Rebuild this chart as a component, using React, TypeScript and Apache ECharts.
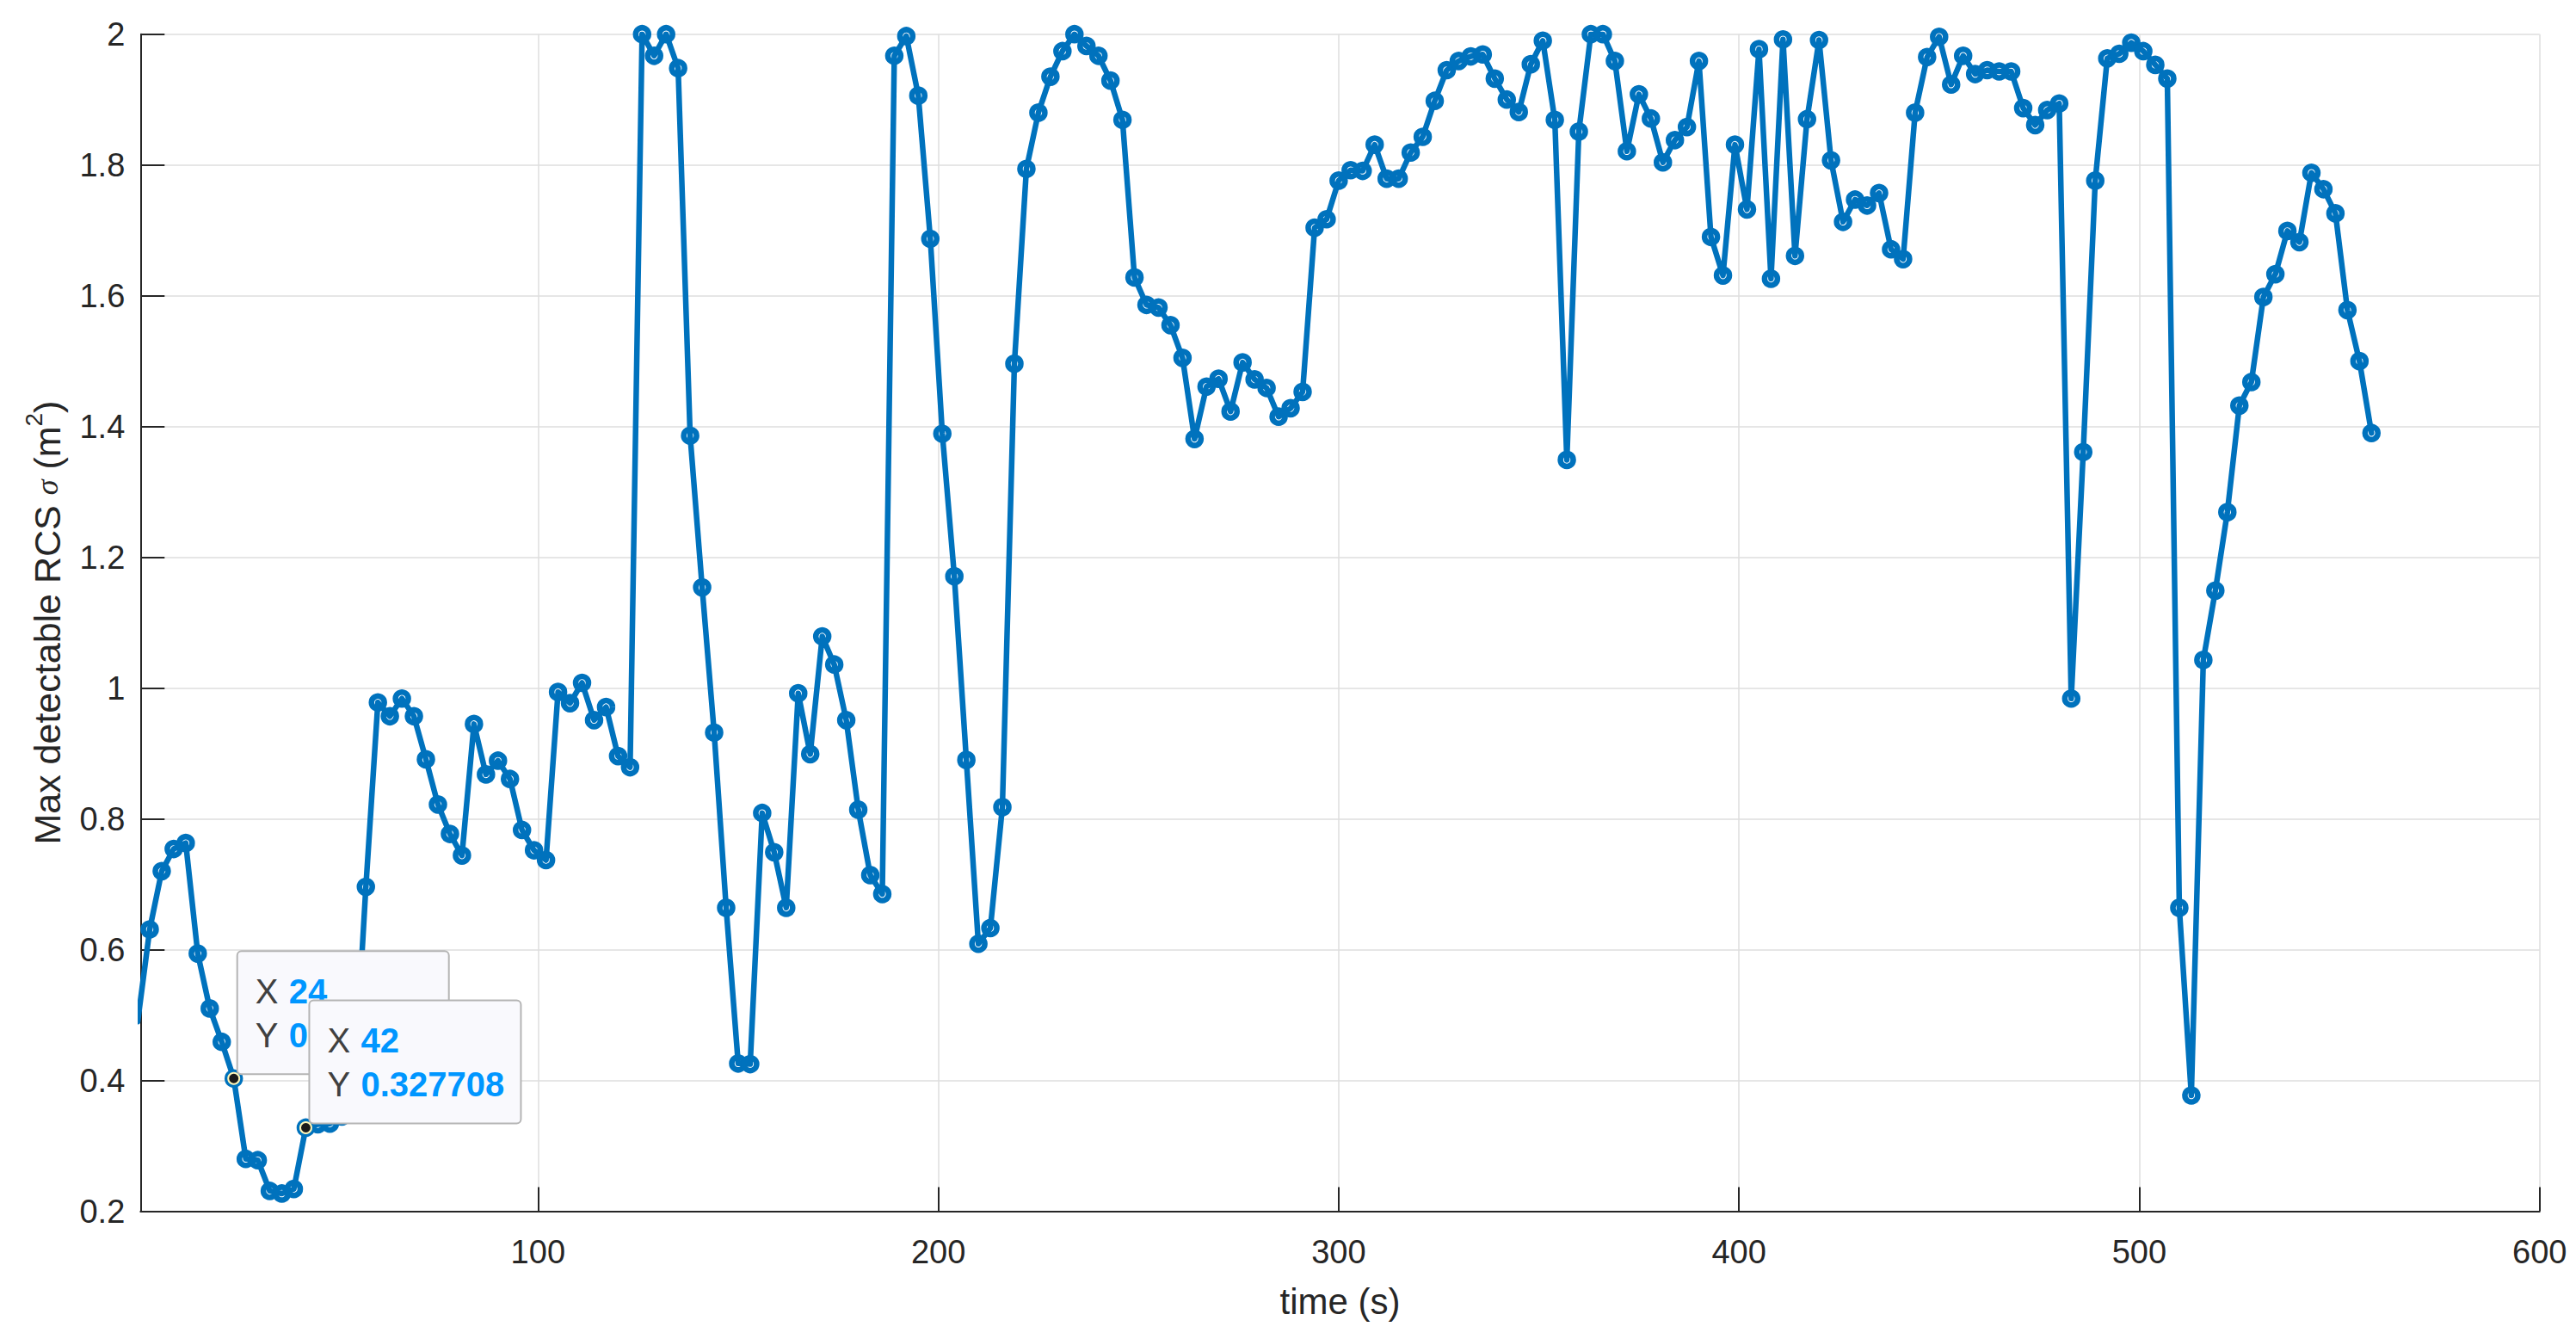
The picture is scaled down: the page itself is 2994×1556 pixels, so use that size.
import React, { useEffect, useRef } from "react";
import * as echarts from "echarts";

// ---- data (time step of 3 s) ----
const TIME_STEP_S = 3;
const rcs000 = [0.49, 0.631, 0.72, 0.754, 0.763, 0.594, 0.51, 0.459, 0.403, 0.28, 0.278, 0.231, 0.227, 0.234, 0.327708, 0.333, 0.334, 0.345, 0.38, 0.696];
const rcs060 = [0.978, 0.957, 0.984, 0.957, 0.891, 0.822, 0.777, 0.744, 0.945, 0.868, 0.889, 0.861, 0.783, 0.752, 0.737, 0.994, 0.977, 1.008, 0.951, 0.971];
const rcs120 = [0.896, 0.879, 2.0, 1.967, 2.0, 1.948, 1.386, 1.154, 0.932, 0.664, 0.426, 0.425, 0.809, 0.749, 0.664, 0.992, 0.899, 1.079, 1.036, 0.951];
const rcs180 = [0.814, 0.714, 0.685, 1.967, 1.997, 1.906, 1.687, 1.389, 1.171, 0.89, 0.609, 0.633, 0.818, 1.496, 1.794, 1.88, 1.935, 1.974, 2.0, 1.982];
const rcs240 = [1.967, 1.929, 1.869, 1.628, 1.586, 1.582, 1.555, 1.505, 1.381, 1.461, 1.473, 1.423, 1.498, 1.472, 1.459, 1.415, 1.428, 1.453, 1.704, 1.717];
const rcs300 = [1.776, 1.792, 1.791, 1.831, 1.779, 1.779, 1.819, 1.843, 1.898, 1.945, 1.959, 1.966, 1.969, 1.932, 1.9, 1.881, 1.954, 1.99, 1.869, 1.349];
const rcs360 = [1.851, 2.0, 2.0, 1.959, 1.821, 1.908, 1.871, 1.804, 1.838, 1.858, 1.959, 1.69, 1.631, 1.831, 1.732, 1.977, 1.626, 1.992, 1.661, 1.87];
const rcs420 = [1.991, 1.807, 1.713, 1.747, 1.738, 1.757, 1.671, 1.656, 1.88, 1.965, 1.996, 1.923, 1.967, 1.939, 1.945, 1.943, 1.943, 1.887, 1.861, 1.884];
const rcs480 = [1.894, 0.984, 1.361, 1.776, 1.963, 1.97, 1.987, 1.974, 1.953, 1.932, 0.664, 0.377, 1.043, 1.149, 1.269, 1.432, 1.468, 1.598, 1.633, 1.699];
const rcs540 = [1.682, 1.788, 1.763, 1.726, 1.578, 1.5, 1.39];

const xTickValues = [100, 200, 300, 400, 500, 600];
const yTickMin = 0.2;
const yTickMax = 2;
const yTickStep = 0.2;
const dataTipTimes = [24, 42];

const rcsValues = [
  ...rcs000, ...rcs060, ...rcs120, ...rcs180, ...rcs240,
  ...rcs300, ...rcs360, ...rcs420, ...rcs480, ...rcs540,
];
const seriesData = rcsValues.map((v, i) => [i * TIME_STEP_S, v]);

const FONT = "'Liberation Sans', Arial, Helvetica, sans-serif";
const AX = "#262626";
const BLUE = "#0072BD";

function fmtTip(v: number): string {
  return String(parseFloat(v.toPrecision(6)));
}

export default function App() {
  const ref = useRef<HTMLDivElement>(null);

  useEffect(() => {
    document.body.style.margin = "0";
    const chart = echarts.init(ref.current as HTMLDivElement, undefined, { renderer: "svg" });

    const option: any = {
      animation: false,
      backgroundColor: "#ffffff",
      grid: {
        left: 163.3,
        top: 39.7,
        right: 2994 - 2951.7,
        bottom: 1556 - 1407.5,
        containLabel: false,
        outerBoundsMode: "none",
      },
      xAxis: {
        type: "value",
        min: 0.7,
        max: 600,
        name: "time (s)",
        nameLocation: "middle",
        nameGap: 84,
        nameTextStyle: { fontFamily: FONT, fontSize: 42, color: AX },
        axisLine: { show: true, onZero: false, lineStyle: { color: AX, width: 2 } },
        axisTick: { show: true, inside: true, length: 28, customValues: xTickValues, lineStyle: { color: AX, width: 2 } },
        axisLabel: { show: true, customValues: xTickValues, margin: 28, fontFamily: FONT, fontSize: 38, color: AX },
        splitLine: { show: true, lineStyle: { color: "#DEDEDE", width: 1.5 } },
      },
      yAxis: {
        type: "value",
        min: yTickMin,
        max: yTickMax,
        interval: yTickStep,
        name: "{a|Max detectable RCS }{s|σ}{a| (m}{p|2}{a|)}",
        nameLocation: "middle",
        nameRotate: 90,
        nameGap: 78,
        nameTextStyle: {
          fontFamily: FONT,
          fontSize: 43,
          color: AX,
          rich: {
            a: { fontFamily: FONT, fontSize: 43, color: AX, lineHeight: 60, verticalAlign: "middle" },
            s: { fontFamily: "'Liberation Serif', 'DejaVu Serif', serif", fontStyle: "italic", fontSize: 36, color: AX, lineHeight: 60 },
            p: { fontFamily: FONT, fontSize: 28, color: AX, lineHeight: 28, verticalAlign: "top" },
          },
        },
        axisLine: { show: true, onZero: false, lineStyle: { color: AX, width: 2 } },
        axisTick: { show: true, inside: true, length: 28, lineStyle: { color: AX, width: 2 } },
        axisLabel: {
          show: true,
          margin: 18,
          fontFamily: FONT,
          fontSize: 38,
          color: AX,
          formatter: (v: number) => String(parseFloat(v.toFixed(1))),
        },
        splitLine: { show: true, lineStyle: { color: "#DEDEDE", width: 1.5 } },
      },
      series: [
        {
          type: "line",
          data: seriesData,
          showAllSymbol: true,
          symbol: "circle",
          symbolSize: 15,
          clip: true,
          lineStyle: { color: BLUE, width: 6.5, join: "round", cap: "round" },
          itemStyle: { color: "rgba(0,0,0,0)", borderColor: BLUE, borderWidth: 6.5 },
          emphasis: { disabled: true },
          z: 2,
        },
      ],
    };

    chart.setOption(option);

    // data tips, positioned from the chart's own scales
    const graphics: any[] = [];
    const BOX_W = 246;
    const BOX_H = 143;
    dataTipTimes.forEach((t, k) => {
      const idx = Math.round(t / TIME_STEP_S);
      const v = rcsValues[idx];
      const p = chart.convertToPixel({ xAxisIndex: 0, yAxisIndex: 0 }, [t, v]) as number[];
      const bx = p[0] + 4;
      const by = p[1] - 5 - BOX_H;
      const zb = 100 + k * 5;
      graphics.push({
        type: "rect",
        z: zb,
        shape: { x: bx, y: by, width: BOX_W, height: BOX_H, r: 5 },
        style: { fill: "#F9F9FD", stroke: "#B5B5B5", lineWidth: 2 },
      });
      const rows: [string, string, number][] = [
        ["X", String(t), 47],
        ["Y", fmtTip(v), 98],
      ];
      rows.forEach(([lab, val, dy]) => {
        graphics.push({
          type: "text",
          z: zb + 1,
          x: bx + 21,
          y: by + dy,
          style: { text: lab, fontFamily: FONT, fontSize: 40, fill: "#404040", verticalAlign: "middle", align: "left" },
        });
        graphics.push({
          type: "text",
          z: zb + 1,
          x: bx + 60,
          y: by + dy,
          style: { text: val, fontFamily: FONT, fontSize: 40, fontWeight: "bold", fill: "#0096FF", verticalAlign: "middle", align: "left" },
        });
      });
    });
    dataTipTimes.forEach((t) => {
      const idx = Math.round(t / TIME_STEP_S);
      const v = rcsValues[idx];
      const p = chart.convertToPixel({ xAxisIndex: 0, yAxisIndex: 0 }, [t, v]) as number[];
      graphics.push({
        type: "circle",
        z: 120,
        shape: { cx: p[0], cy: p[1], r: 6.5 },
        style: { fill: "#1A1A1A", stroke: "#FFF6B8", lineWidth: 2 },
      });
    });
    chart.setOption({ graphic: graphics });

    return () => chart.dispose();
  }, []);

  return <div ref={ref} style={{ width: 2994, height: 1556 }} />;
}
